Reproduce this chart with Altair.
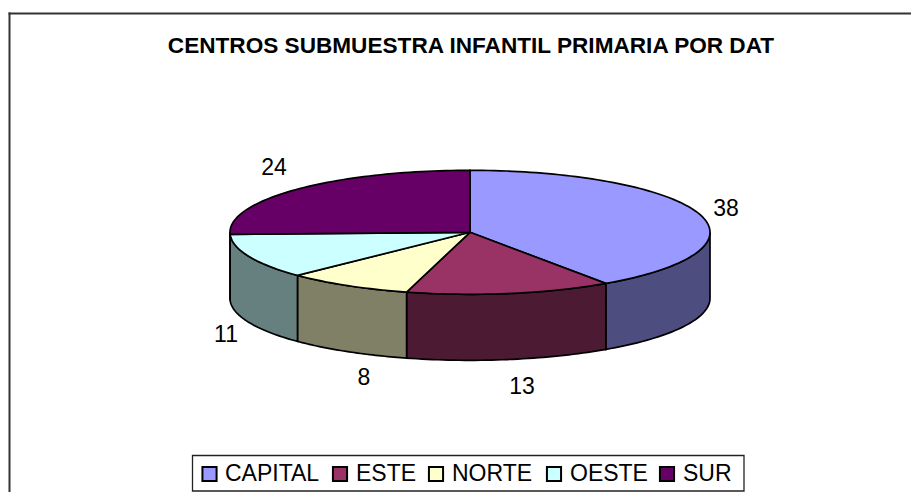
import numpy as np
import pandas as pd
import altair as alt

# --- data ---
categories = ["CAPITAL", "ESTE", "NORTE", "OESTE", "SUR"]
values = [38, 13, 8, 11, 24]
top_colors = ["#9999FF", "#993366", "#FFFFCC", "#CCFFFF", "#660066"]
side_colors = ["#4D4D80", "#4D1A33", "#808066", "#668080", "#330033"]
title_text = "CENTROS SUBMUESTRA INFANTIL PRIMARIA POR DAT"
label_x = [718, 514, 356, 218, 266]
label_y = [201, 379, 370, 327, 160]
legend_swatch_x = [209.5, 340, 436, 554, 667]
legend_text_x = [225, 356, 452, 570, 683]

# canvas and pie geometry
W, H = 903, 484
CX, CY, RX, RY, DEPTH = 462, 224.3, 240, 62, 66


def ex(a):
    return CX + RX * np.sin(a)


def ey(a):
    return CY - RY * np.cos(a)


edges = np.cumsum([0] + values) / sum(values) * 2 * np.pi
rows, side_rows = [], []
for i, cat in enumerate(categories):
    a0, a1 = edges[i], edges[i + 1]
    arc = np.linspace(a0, a1, max(8, int((a1 - a0) * 40)))
    poly = [(CX, CY)] + [(ex(a), ey(a)) for a in arc] + [(CX, CY)]
    for k, (x, y) in enumerate(poly):
        rows.append(dict(cat=cat, k=k, x=x, y=y))
    lo, hi = max(a0, np.pi / 2), min(a1, 3 * np.pi / 2)
    if lo < hi:
        wall = np.linspace(lo, hi, 40)
        pts = [(ex(a), ey(a)) for a in wall] + [(ex(a), ey(a) + DEPTH) for a in wall[::-1]]
        pts.append(pts[0])
        for k, (x, y) in enumerate(pts):
            side_rows.append(dict(cat=cat, k=k, x=x, y=y))

top = pd.DataFrame(rows)
side = pd.DataFrame(side_rows)

x_s = alt.Scale(domain=[0, W], range=[0, W], nice=False, zero=False)
y_s = alt.Scale(domain=[0, H], range=[0, H], nice=False, zero=False)
X = alt.X("x:Q", scale=x_s, axis=None)
Y = alt.Y("y:Q", scale=y_s, axis=None)
Y2 = alt.Y2("y2:Q")
X2 = alt.X2("x2:Q")

FRAME = "#333333"
frame_top = alt.Chart(pd.DataFrame({"x": [0.5], "x2": [W], "y": [5.5]})).mark_rule(
    color=FRAME, strokeWidth=2
).encode(X, X2, Y)
frame_left = alt.Chart(pd.DataFrame({"x": [1.5], "y": [4.5], "y2": [H]})).mark_rule(
    color=FRAME, strokeWidth=2
).encode(X, Y, Y2)


def polys(df, colors):
    return alt.Chart(df).mark_line(
        stroke="black", strokeWidth=1.7, filled=True, interpolate="linear"
    ).encode(
        X, Y, order="k:Q", detail="cat:N",
        fill=alt.Fill("cat:N", scale=alt.Scale(domain=categories, range=colors), legend=None),
    )


side_layer = polys(side, side_colors)
top_layer = polys(top, top_colors)

title = alt.Chart(pd.DataFrame({"x": [463], "y": [38], "t": [title_text]})).mark_text(
    font="Liberation Sans", fontSize=22.6, fontWeight="bold", color="black", align="center", baseline="middle"
).encode(X, Y, text="t:N")

lab = pd.DataFrame({"v": values, "x": label_x, "y": label_y})
labels = alt.Chart(lab).mark_text(
    font="Liberation Sans", fontSize=23, color="black", align="center", baseline="middle"
).encode(X, Y, text="v:Q")

leg_box = alt.Chart(pd.DataFrame({"x": [184.5], "x2": [736], "y": [447.5], "y2": [483]})).mark_rect(
    fill="white", stroke="#222222", strokeWidth=1.3
).encode(X, X2, Y, Y2)

leg = pd.DataFrame({"cat": categories, "x": legend_swatch_x, "tx": legend_text_x})
leg["x"] = leg["x"] - 8
leg["tx"] = leg["tx"] - 8
leg["y"] = 466
swatch = alt.Chart(leg).mark_square(size=200, stroke="black", strokeWidth=2, opacity=1).encode(
    X, Y,
    fill=alt.Fill("cat:N", scale=alt.Scale(domain=categories, range=top_colors), legend=None),
)
leg_text = alt.Chart(leg).mark_text(
    font="Liberation Sans", fontSize=23, color="black", align="left", baseline="middle"
).encode(alt.X("tx:Q", scale=x_s, axis=None), Y, text="cat:N")

chart = alt.layer(
    frame_top, frame_left, side_layer, top_layer, title, labels, leg_box, swatch, leg_text
).resolve_scale(fill="independent").properties(
    width=W, height=H, padding=0, autosize=alt.AutoSizeParams(type="none"), background="white"
).configure_view(stroke=None)

chart.save("out.html", embed_options={"renderer": "svg", "actions": False})
